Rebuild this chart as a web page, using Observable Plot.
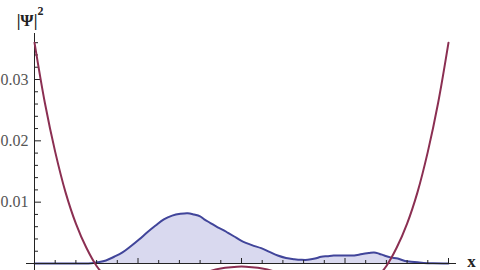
<!DOCTYPE html>
<html><head><meta charset="utf-8">
<script src="https://cdn.jsdelivr.net/npm/d3@7"></script>
<script src="https://cdn.jsdelivr.net/npm/@observablehq/plot@0.6"></script>
<style>body{margin:0;background:#fff} #chart svg text{font-family:"Liberation Serif","Times New Roman",serif !important;}</style>
</head><body><div id="chart"></div>
<script>
// |Psi|^2 density
const psiX = [-2.0, -1.6, -1.45, -1.39, -1.31, -1.23, -1.15, -1.07, -0.99, -0.91, -0.83, -0.75, -0.67, -0.59, -0.52, -0.46, -0.40, -0.36, -0.30, -0.23, -0.18, -0.13, -0.07, 0.0, 0.10, 0.19, 0.27, 0.35, 0.43, 0.51, 0.58, 0.64, 0.71, 0.77, 0.83, 0.89, 0.97, 1.06, 1.12, 1.18, 1.23, 1.28, 1.33, 1.38, 1.44, 1.51, 1.58, 1.64, 1.70, 1.76, 1.85, 2.0];
const psi2 = [0, 0, 0.00003, 0.0002, 0.0005, 0.0011, 0.0018, 0.0028, 0.0039, 0.0051, 0.0062, 0.0072, 0.0078, 0.0081, 0.0082, 0.0080, 0.0077, 0.0072, 0.0066, 0.0059, 0.0055, 0.0050, 0.0044, 0.0037, 0.0030, 0.0025, 0.0019, 0.0013, 0.0009, 0.0007, 0.0006, 0.0006, 0.0008, 0.0011, 0.0012, 0.0013, 0.0013, 0.0013, 0.0014, 0.0016, 0.0017, 0.0018, 0.0016, 0.0013, 0.0010, 0.0008, 0.0004, 0.0003, 0.0002, 0.0001, 0.00003, 0];
// potential curve
const potX = [-2.0, -1.9, -1.8, -1.7, -1.6, -1.5, -1.4, -1.3, -1.2, -1.1, -1.0, -0.9, -0.8, -0.7, -0.6, -0.5, -0.4, -0.3, -0.2, -0.1, 0.0, 0.1, 0.2, 0.3, 0.4, 0.5, 0.6, 0.7, 0.8, 0.9, 1.0, 1.1, 1.2, 1.3, 1.4, 1.5, 1.6, 1.7, 1.8, 1.9, 2.0];
const potV = [0.036, 0.0262, 0.0182, 0.0116, 0.0065, 0.0026, -0.0004, -0.0024, -0.0037, -0.0044, -0.0047, -0.0046, -0.0042, -0.0037, -0.0030, -0.0024, -0.0018, -0.0012, -0.0008, -0.0006, -0.0005, -0.0006, -0.0008, -0.0012, -0.0018, -0.0024, -0.0030, -0.0037, -0.0042, -0.0046, -0.0047, -0.0044, -0.0037, -0.0024, -0.0004, 0.0026, 0.0065, 0.0116, 0.0182, 0.0262, 0.036];
const yTickLabels = [0.01, 0.02, 0.03];
const yMinor = [0.002, 0.004, 0.006, 0.008, 0.012, 0.014, 0.016, 0.018, 0.022, 0.024, 0.026, 0.028, 0.032, 0.034, 0.036];
const xMajor = [-2, -1, 0, 1, 2];
const xMinor = [-1.8, -1.6, -1.4, -1.2, -0.8, -0.6, -0.4, -0.2, 0.2, 0.4, 0.6, 0.8, 1.2, 1.4, 1.6, 1.8];

const psi = psiX.map((x, i) => ({x, p: psi2[i]}));
const pot = potX.map((x, i) => ({x, v: potV[i]}));

const W = 480, H = 270;
const mL = 34, mR = 32, mT = 33, mB = 7;
const frameW = W - mL - mR, frameH = H - mT - mB;
const serif = "Liberation Serif";

const chart = Plot.plot({
  width: W, height: H,
  marginLeft: mL, marginRight: mR, marginTop: mT, marginBottom: mB,
  x: {domain: [-2, 2], axis: null},
  y: {domain: [0, 0.03], range: [H - mB, H - mB - 184], axis: null},
  style: {background: "white", overflow: "hidden", fontFamily: serif},
  marks: [
    Plot.areaY(psi, {x: "x", y: "p", fill: "#d9d9ef", curve: "catmull-rom"}),
    Plot.lineY(psi, {x: "x", y: "p", stroke: "#41459a", strokeWidth: 2, curve: "catmull-rom"}),
    Plot.ruleY([0], {stroke: "#222", insetLeft: -8, insetRight: -8}),
    Plot.ruleX([-2], {stroke: "#222", insetBottom: -12}),
    Plot.ruleX(xMajor, {stroke: "#222", insetTop: frameH - 5, insetBottom: -1}),
    Plot.ruleX(xMinor, {stroke: "#222", insetTop: frameH - 3, insetBottom: -1}),
    Plot.ruleY(yTickLabels, {stroke: "#222", insetRight: frameW - 7}),
    Plot.ruleY(yMinor, {stroke: "#222", insetRight: frameW - 4}),
    Plot.lineY(pot, {x: "x", y: "v", stroke: "#8b2f52", strokeWidth: 2, curve: "catmull-rom"}),
    Plot.text(yTickLabels, {frameAnchor: "left", y: d => d, text: d => d.toFixed(2), dx: -6, textAnchor: "end", fontSize: 16, fill: "#555", fontFamily: serif}),
    Plot.text(["|Ψ|"], {frameAnchor: "top-left", text: d => d, dx: -7.5, dy: -8, lineAnchor: "bottom", textAnchor: "middle", fontSize: 17, fontWeight: "bold", fill: "#222", fontFamily: serif}),
    Plot.text(["2"], {frameAnchor: "top-left", text: d => d, dx: 6, dy: -19, lineAnchor: "bottom", textAnchor: "middle", fontSize: 12, fontWeight: "bold", fill: "#222", fontFamily: serif}),
    Plot.text(["x"], {frameAnchor: "bottom-right", text: d => d, dx: 23, dy: 3, lineAnchor: "bottom", textAnchor: "middle", fontSize: 17, fontWeight: "bold", fill: "#222", fontFamily: serif})
  ]
});
document.getElementById("chart").appendChild(chart);
</script>
</body></html>
